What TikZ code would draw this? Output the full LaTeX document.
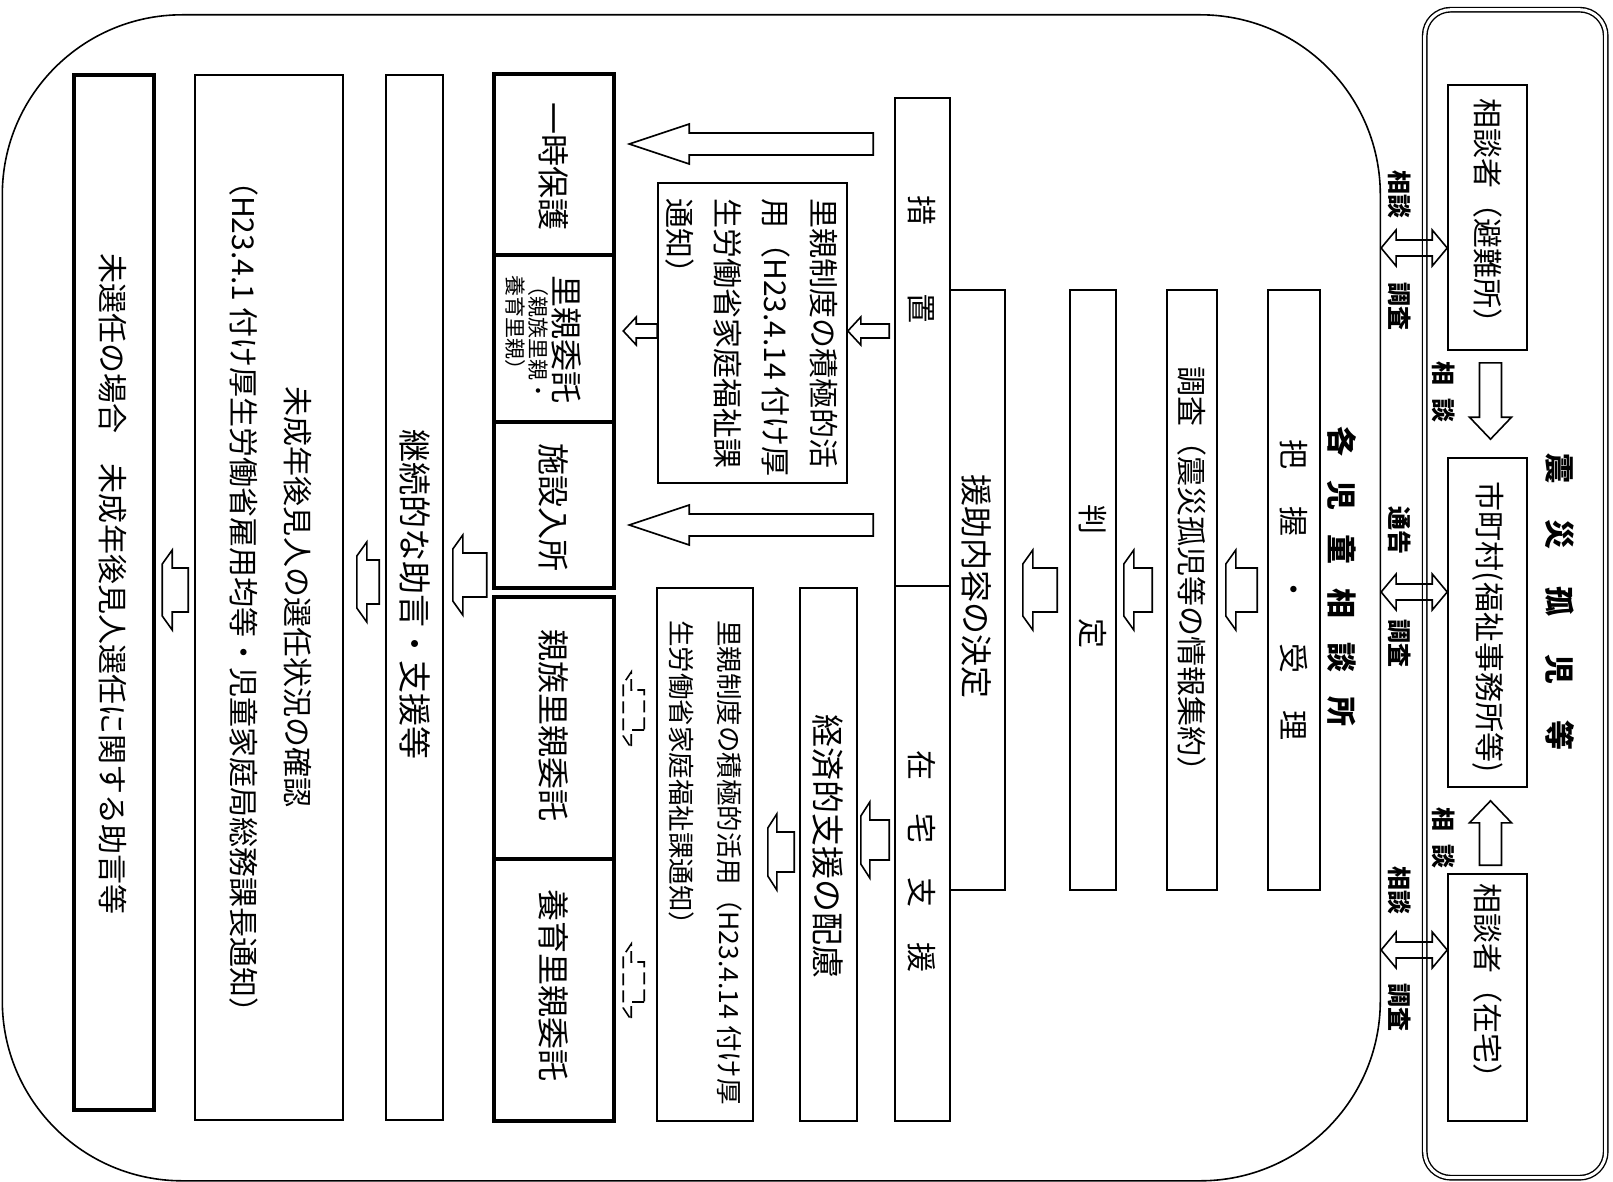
\documentclass[tikz,border=0pt]{standalone}
\usepackage{fontspec}
\newfontfamily\jp{Noto Sans CJK JP}
\usetikzlibrary{calc}

% block arrow: [style]{tail}{tip}{body half}{head half}{head length}{front half}
\newcommand\blockarrow[7][]{%
  \coordinate (bat) at #2; \coordinate (bap) at #3;
  \coordinate (bah) at ($(bap)!#6!(bat)$);
  \draw[#1] ($(bat)!#4!90:(bap)$) -- ($(bah)!#4!90:(bap)$) -- ($(bah)!#5!90:(bap)$)
    -- ($(bap)!#7!-90:(bah)$) -- ($(bap)!#7!90:(bah)$)
    -- ($(bah)!#5!-90:(bap)$) -- ($(bah)!#4!-90:(bap)$) -- ($(bat)!#4!-90:(bap)$) -- cycle;}
% double block arrow: [style]{end a}{end b}{body half}{head half}{head length}
\newcommand\dblarrow[6][]{%
  \coordinate (daa) at #2; \coordinate (dab) at #3;
  \coordinate (dha) at ($(daa)!#6!(dab)$); \coordinate (dhb) at ($(dab)!#6!(daa)$);
  \draw[#1] (daa) -- ($(dha)!#5!90:(dab)$) -- ($(dha)!#4!90:(dab)$) -- ($(dhb)!#4!90:(dab)$)
    -- ($(dhb)!#5!90:(dab)$) -- (dab) -- ($(dhb)!#5!-90:(dab)$) -- ($(dhb)!#4!-90:(dab)$)
    -- ($(dha)!#4!-90:(dab)$) -- ($(dha)!#5!-90:(dab)$) -- cycle;}

\begin{document}
\begin{tikzpicture}[x=1pt,y=-1pt,
  bx/.style={draw,line width=1.6pt,inner sep=0pt},
  tbx/.style={draw,line width=4.5pt,inner sep=0pt},
  vt/.style={rotate=-90,inner sep=0pt},
  f30/.style={font=\jp\fontsize{30}{48}\selectfont},
  f32/.style={font=\jp\fontsize{32}{48}\selectfont},
  fb/.style={font=\jp\bfseries\fontsize{30}{36}\selectfont},
  flab/.style={font=\jp\bfseries\fontsize{24}{28}\selectfont},
  fsm/.style={font=\jp\fontsize{21}{23}\selectfont},
  arr/.style={line width=1.6pt}]
\fill[white] (0,0) rectangle (1613,1182);
\useasboundingbox (0,0) rectangle (1613,1182);

% frames
\node[draw,line width=1.6pt,rounded corners=180pt,minimum width=1378pt,minimum height=1166pt,anchor=north west] (jido) at (1.5,14) {};
\node[draw,double,double distance=3pt,line width=1.4pt,rounded corners=26pt,minimum width=181pt,minimum height=1168pt,anchor=north west] (koji) at (1424,9) {};
\node[vt,fb] (koji-t) at (1560,602) {震\hspace{37pt}災\hspace{37pt}孤\hspace{37pt}児\hspace{37pt}等};
\node[vt,fb] (jido-t) at (1342,576) {各\hspace{24pt}児\hspace{24pt}童\hspace{24pt}相\hspace{24pt}談\hspace{24pt}所};

% right panel
\node[bx,minimum width=79pt,minimum height=265pt] (sodanA) at (1487.5,217.5) {};
\node[bx,minimum width=79pt,minimum height=329pt] (city) at (1487.5,622.5) {};
\node[bx,minimum width=79pt,minimum height=247pt] (sodanC) at (1487.5,997.5) {};
\node[vt,f30] (sodanA-t) at (1488,219) {相談者（避難所）};
\node[vt,f30] (city-t) at (1488,627) {市町村(福祉事務所等)};
\node[vt,f30] (sodanC-t) at (1488,988) {相談者（在宅）};
\blockarrow[arr]{($(sodanA.south)+(3,12)$)}{($(city.north)+(3,-18)$)}{11pt}{21pt}{22pt}{0pt}
\blockarrow[arr]{($(sodanC.north)+(3,-8)$)}{($(city.south)+(3,13)$)}{11pt}{21pt}{22pt}{0pt}
\node[vt,flab] (sd1-l) at (1444,392) {相\hspace{14pt}談};
\node[vt,flab] (sd2-l) at (1444,838) {相\hspace{14pt}談};

\coordinate (rA) at (0,248);
\coordinate (rB) at (0,592);
\coordinate (rC) at (0,950);
\dblarrow[arr]{(jido.east |- rA)}{(sodanA.west |- rA)}{8pt}{18pt}{15pt}
\dblarrow[arr]{(jido.east |- rB)}{(city.west |- rB)}{8pt}{18pt}{15pt}
\dblarrow[arr]{(jido.east |- rC)}{(sodanC.west |- rC)}{8pt}{18pt}{15pt}
\node[vt,flab] (a1-l) at (1400,195) {相談};
\node[vt,flab] (a2-l) at (1400,307) {調査};
\node[vt,flab] (b1-l) at (1400,530) {通告};
\node[vt,flab] (b2-l) at (1400,643) {調査};
\node[vt,flab] (c1-l) at (1400,890) {相談};
\node[vt,flab] (c2-l) at (1400,1007) {調査};

% steps
\node[bx,minimum width=52pt,minimum height=600pt] (haaku) at (1294,590) {};
\node[bx,minimum width=50pt,minimum height=600pt] (chosa) at (1192,590) {};
\node[bx,minimum width=46pt,minimum height=600pt] (hantei) at (1093,590) {};
\node[bx,minimum width=55pt,minimum height=600pt] (enjo) at (977.5,590) {};
\node[bx,minimum width=55pt,minimum height=488pt] (sochi) at (922.5,342) {};
\node[bx,minimum width=55pt,minimum height=535pt] (zaitaku) at (922.5,853.5) {};
\node[vt,f30] (haaku-t) at (1294,590) {把\hspace{38pt}握\hspace{38pt}・\hspace{38pt}受\hspace{38pt}理};
\node[vt,f30] (chosa-t) at (1192,576) {調査（震災孤児等の情報集約）};
\node[vt,f30] (hantei-t) at (1093,576) {判\hspace{84pt}定};
\node[vt,f32] (enjo-t) at (977,586) {援助内容の決定};
\node[vt,f30] (sochi-t) at (922,260) {措\hspace{68pt}置};
\node[vt,f30] (zaitaku-t) at (922,861) {在\hspace{34pt}宅\hspace{34pt}支\hspace{34pt}援};
\blockarrow[arr]{($(haaku.west)+(-10,0)$)}{($(chosa.east)+(8,0)$)}{22pt}{40pt}{10pt}{26pt}
\blockarrow[arr]{($(chosa.west)+(-14,0)$)}{($(hantei.east)+(7,0)$)}{22pt}{40pt}{10pt}{26pt}
\blockarrow[arr]{($(hantei.west)+(-12,0)$)}{($(enjo.east)+(17,0)$)}{22pt}{40pt}{10pt}{26pt}

% placements
\node[tbx,minimum width=120pt,minimum height=181pt] (ichiji) at (554,164.5) {};
\node[tbx,minimum width=120pt,minimum height=167pt] (satooya) at (554,338.5) {};
\node[tbx,minimum width=120pt,minimum height=166pt] (shisetsu) at (554,505) {};
\node[tbx,minimum width=120pt,minimum height=262pt] (shinzoku) at (554,728) {};
\node[tbx,minimum width=120pt,minimum height=262pt] (yoiku) at (554,990) {};
\node[vt,f32] (ichiji-t) at (554,167) {一時保護};
\node[vt,f32] (satooya-t) at (567,340) {里親委託};
\node[vt,fsm,align=left] (satooya-s) at (527,338) {（親族里親・\\養育里親）};
\node[vt,f32] (shisetsu-t) at (554,507) {施設入所};
\node[vt,f32] (shinzoku-t) at (554,725) {親族里親委託};
\node[vt,f32] (yoiku-t) at (554,985) {養育里親委託};

\coordinate (r1) at (0,144);
\coordinate (r2) at (0,525);
\coordinate (r3) at (0,331);
\blockarrow[arr]{($(sochi.west |- r1)+(-21,0)$)}{($(ichiji.east |- r1)+(13,0)$)}{11pt}{20pt}{60pt}{0pt}
\blockarrow[arr]{($(sochi.west |- r2)+(-21,0)$)}{($(shisetsu.east |- r2)+(13,0)$)}{11pt}{20pt}{60pt}{0pt}

\node[bx,minimum width=189pt,minimum height=300pt] (fosterA) at (752.5,333) {};
\node[vt,f30,align=left,anchor=north west] (fosterA-t) at (838,198) {里親制度の積極的活\\用（H23.4.14 付け厚\\生労働省家庭福祉課\\通知）};
\blockarrow[arr]{($(sochi.west |- r3)+(-5,0)$)}{(fosterA.east |- r3)}{7pt}{14pt}{13pt}{0pt}
\blockarrow[arr]{(fosterA.west |- r3)}{($(satooya.east |- r3)+(7,0)$)}{7pt}{14pt}{13pt}{0pt}

\node[bx,minimum width=57pt,minimum height=533pt] (keizai) at (828.5,854.5) {};
\node[vt,font=\jp\fontsize{33}{40}\selectfont] (keizai-t) at (828,846) {経済的支援の配慮};
\node[bx,minimum width=96pt,minimum height=533pt] (fosterB) at (705,854.5) {};
\node[vt,font=\jp\fontsize{26.5}{48}\selectfont,align=left,anchor=north west] (fosterB-t) at (742,620) {里親制度の積極的活用（H23.4.14 付け厚\\生労働省家庭福祉課通知）};

\coordinate (rE) at (0,840);
\coordinate (rF) at (0,852);
\coordinate (rG) at (0,710);
\coordinate (rH) at (0,982);
\blockarrow[arr]{($(zaitaku.west |- rE)+(-5,0)$)}{($(keizai.east |- rE)+(3,0)$)}{20pt}{38pt}{9pt}{24pt}
\blockarrow[arr]{($(keizai.west |- rF)+(-5,0)$)}{($(fosterB.east |- rF)+(14,0)$)}{20pt}{38pt}{9pt}{24pt}
\blockarrow[arr,dash pattern=on 12pt off 5pt]{($(fosterB.west |- rG)+(-12,0)$)}{($(shinzoku.east |- rG)+(7,0)$)}{20pt}{38pt}{8pt}{26pt}
\blockarrow[arr,dash pattern=on 12pt off 5pt]{($(fosterB.west |- rH)+(-12,0)$)}{($(yoiku.east |- rH)+(7,0)$)}{20pt}{38pt}{8pt}{26pt}

% follow-up
\node[bx,minimum width=57pt,minimum height=1045pt] (keizoku) at (414.5,597.5) {};
\node[bx,minimum width=148pt,minimum height=1045pt] (kouken) at (269,597.5) {};
\node[tbx,minimum width=80pt,minimum height=1035pt] (misen) at (114,592.5) {};
\node[vt,font=\jp\fontsize{33}{40}\selectfont] (keizoku-t) at (415,594) {継続的な助言・支援等};
\node[vt,font=\jp\fontsize{30}{54}\selectfont,align=center] (kouken-t) at (271,597) {未成年後見人の選任状況の確認\\（H23.4.1 付け厚生労働省雇用均等・児童家庭局総務課長通知）};
\node[vt,f30] (misen-t) at (113,584) {未選任の場合　未成年後見人選任に関する助言等};

\coordinate (rL1) at (0,575);
\coordinate (rL2) at (0,582);
\coordinate (rL3) at (0,590);
\blockarrow[arr]{($(shisetsu.west |- rL1)+(-5,0)$)}{($(keizoku.east |- rL1)+(9,0)$)}{22pt}{40pt}{10pt}{26pt}
\blockarrow[arr]{($(keizoku.west |- rL2)+(-6,0)$)}{($(kouken.east |- rL2)+(13,0)$)}{22pt}{40pt}{10pt}{26pt}
\blockarrow[arr]{($(kouken.west |- rL3)+(-6,0)$)}{($(misen.east |- rL3)+(6,0)$)}{22pt}{40pt}{10pt}{26pt}
\end{tikzpicture}
\end{document}
